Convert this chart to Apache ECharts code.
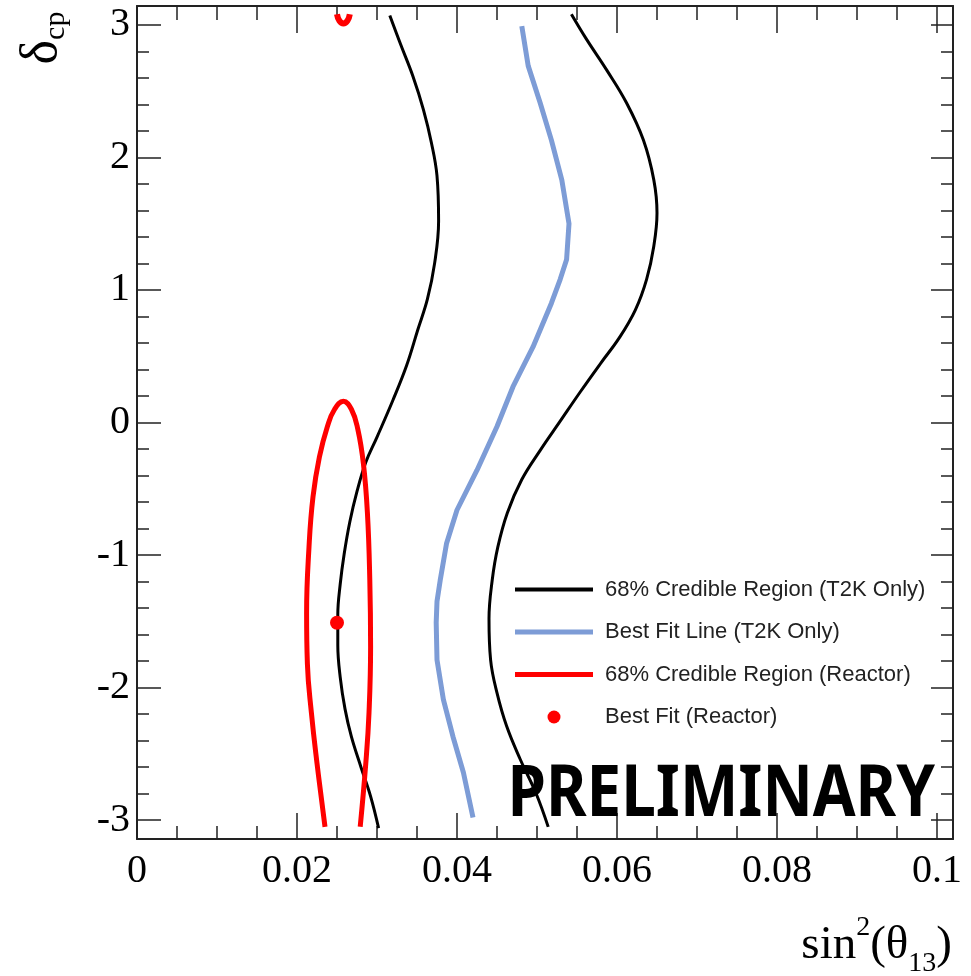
<!DOCTYPE html>
<html>
<head>
<meta charset="utf-8">
<script src="https://cdn.jsdelivr.net/npm/echarts@6/dist/echarts.min.js"></script>
<style>
  html, body { margin: 0; padding: 0; background: #fff; }
  #chart { width: 971px; height: 976px; }
</style>
</head>
<body>
<div id="chart"></div>
<script>
// sin^2(theta13) vs delta_cp contours
const t2kLeft = [
  [0.0316, 3.07], [0.0329, 2.86], [0.0345, 2.61], [0.0358, 2.36], [0.0368, 2.11],
  [0.0375, 1.86], [0.0377, 1.52], [0.0372, 1.20], [0.0363, 0.93], [0.0351, 0.70],
  [0.0337, 0.43], [0.0320, 0.17], [0.0300, -0.11], [0.0286, -0.30], [0.0275, -0.52],
  [0.0266, -0.75], [0.0259, -0.99], [0.0254, -1.22], [0.0251, -1.45], [0.0251, -1.68],
  [0.0254, -1.92], [0.0260, -2.16], [0.0268, -2.37], [0.0280, -2.60], [0.0292, -2.82],
  [0.0302, -3.06]
]
const t2kRight = [
  [0.0543, 3.08], [0.0562, 2.89], [0.0587, 2.66], [0.0612, 2.41], [0.0633, 2.13],
  [0.0646, 1.83], [0.0650, 1.58], [0.0646, 1.33], [0.0637, 1.08], [0.0623, 0.85],
  [0.0603, 0.64], [0.0580, 0.45], [0.0554, 0.23], [0.0529, 0.01],
  [0.0504, -0.21], [0.0481, -0.43], [0.0463, -0.68], [0.0451, -0.94], [0.0444, -1.19],
  [0.0440, -1.48], [0.0442, -1.79], [0.0450, -2.04], [0.0462, -2.29],
  [0.0479, -2.54], [0.0499, -2.80], [0.0514, -3.05]
]
const t2kBest = [
  [0.0481, 2.99], [0.0489, 2.69], [0.0504, 2.41], [0.0518, 2.13], [0.0531, 1.83],
  [0.0540, 1.50], [0.0537, 1.23], [0.0529, 1.08], [0.0518, 0.90],
  [0.0495, 0.57], [0.0470, 0.27], [0.0450, -0.03], [0.0425, -0.36], [0.0400, -0.66],
  [0.0387, -0.91], [0.0379, -1.19], [0.0375, -1.35], [0.0374, -1.51], [0.0375, -1.79],
  [0.0383, -2.09], [0.0395, -2.37], [0.0408, -2.64], [0.0420, -2.98]
]
const reactorMain = [
  [0.0235, -3.05], [0.0225, -2.57], [0.0218, -2.19], [0.0213, -1.82], [0.0212, -1.44],
  [0.0215, -0.94], [0.0220, -0.56], [0.0228, -0.26], [0.0238, -0.03], [0.0247, 0.10],
  [0.0258, 0.16], [0.0268, 0.10], [0.0276, -0.05], [0.0283, -0.31], [0.0288, -0.68],
  [0.0291, -1.19], [0.0292, -1.69], [0.0290, -2.19], [0.0286, -2.57], [0.0279, -3.05]
]
const reactorTop = [
  [0.0250, 3.08], [0.0253, 3.03], [0.0258, 3.01], [0.0263, 3.03], [0.0266, 3.08]
]
const reactorBest = [[0.0250, -1.51]]

const xMajor = [0, 0.02, 0.04, 0.06, 0.08, 0.1]
const xMinor = [0.005, 0.01, 0.015, 0.025, 0.03, 0.035, 0.045, 0.05, 0.055,
  0.065, 0.07, 0.075, 0.085, 0.09, 0.095]
const yMajor = [-3, -2, -1, 0, 1, 2, 3]
const yMinor = [-2.8, -2.6, -2.4, -2.2, -1.8, -1.6, -1.4, -1.2, -0.8, -0.6, -0.4, -0.2,
  0.2, 0.4, 0.6, 0.8, 1.2, 1.4, 1.6, 1.8, 2.2, 2.4, 2.6, 2.8]

const names = [
  '68% Credible Region (T2K Only)',
  'Best Fit Line (T2K Only)',
  '68% Credible Region (Reactor)',
  'Best Fit (Reactor)'
]

const XMIN = 0
const XMAX = 0.102
const YMIN = -Math.PI
const YMAX = Math.PI
const tickColor = '#222'
const serif = 'Liberation Serif'

function makeX (pos, vals, len, withLine, withLabel) {
  return {
    type: 'value',
    position: pos,
    min: XMIN,
    max: XMAX,
    axisLine: { show: withLine, onZero: false, lineStyle: { color: tickColor, width: 2 } },
    axisTick: { show: true, inside: true, length: len, customValues: vals, lineStyle: { color: tickColor, width: 1.5 } },
    axisLabel: {
      show: withLabel,
      customValues: xMajor,
      fontFamily: serif,
      fontSize: 40,
      color: '#000',
      margin: 12
    },
    splitLine: { show: false }
  }
}

function makeY (pos, vals, len, withLine, withLabel) {
  return {
    type: 'value',
    position: pos,
    min: YMIN,
    max: YMAX,
    axisLine: { show: withLine, onZero: false, lineStyle: { color: tickColor, width: 2 } },
    axisTick: { show: true, inside: true, length: len, customValues: vals, lineStyle: { color: tickColor, width: 1.5 } },
    axisLabel: {
      show: withLabel,
      customValues: yMajor,
      fontFamily: serif,
      fontSize: 40,
      color: '#000',
      margin: 7
    },
    splitLine: { show: false }
  }
}

const chart = echarts.init(document.getElementById('chart'))

const option = {
  animation: false,
  backgroundColor: '#fff',
  grid: { left: 137, right: 18, top: 6, bottom: 137 },
  xAxis: [
    makeX('bottom', xMajor, 26, true, true),
    makeX('bottom', xMinor, 13, false, false),
    makeX('top', xMajor, 27, true, false),
    makeX('top', xMinor, 14, false, false)
  ],
  yAxis: [
    makeY('left', yMajor, 24, true, true),
    makeY('left', yMinor, 12, false, false),
    makeY('right', yMajor, 22, true, false),
    makeY('right', yMinor, 12, false, false)
  ],
  legend: {
    data: [
      { name: names[0], icon: 'path://M0 0H78V4H0Z' },
      { name: names[1], icon: 'path://M0 0H78V5H0Z' },
      { name: names[2], icon: 'path://M0 0H78V5H0Z' },
      { name: names[3], icon: 'circle' }
    ],
    orient: 'vertical',
    left: 510,
    top: 573,
    itemWidth: 78,
    itemHeight: 13,
    itemGap: 19.5,
    selectedMode: false,
    textStyle: {
      fontFamily: 'Liberation Sans',
      fontSize: 22,
      lineHeight: 23,
      color: '#222',
      padding: [0, 0, 0, 7]
    }
  },
  series: [
    {
      name: names[0],
      type: 'line',
      data: t2kLeft,
      symbol: 'none',
      smooth: 0.4,
      lineStyle: { color: '#000', width: 3 },
      itemStyle: { color: '#000' }
    },
    {
      name: names[0],
      type: 'line',
      data: t2kRight,
      symbol: 'none',
      smooth: 0.4,
      lineStyle: { color: '#000', width: 3 },
      itemStyle: { color: '#000' }
    },
    {
      name: names[1],
      type: 'line',
      data: t2kBest,
      symbol: 'none',
      lineStyle: { color: '#7d9cd6', width: 5 },
      itemStyle: { color: '#7d9cd6' }
    },
    {
      name: names[2],
      type: 'line',
      data: reactorMain,
      symbol: 'none',
      smooth: 0.45,
      lineStyle: { color: '#ff0000', width: 5 },
      itemStyle: { color: '#ff0000' }
    },
    {
      name: names[2],
      type: 'line',
      data: reactorTop,
      symbol: 'none',
      smooth: 0.45,
      lineStyle: { color: '#ff0000', width: 6 },
      itemStyle: { color: '#ff0000' }
    },
    {
      name: names[3],
      type: 'scatter',
      data: reactorBest,
      symbol: 'circle',
      symbolSize: 14,
      itemStyle: { color: '#ff0000', opacity: 1 },
      z: 5
    }
  ],
  graphic: [
    {
      type: 'text',
      x: 935,
      y: 831,
      scaleX: 0.86,
      scaleY: 1,
      z: 10,
      style: {
        text: 'PRELIMINARY',
        fontFamily: 'Noto Sans',
        fontWeight: 'bold',
        fontSize: 72,
        fill: '#000',
        align: 'right',
        verticalAlign: 'bottom'
      }
    },
    {
      // axis title, x
      type: 'text',
      x: 952,
      y: 978,
      style: {
        text: '{a|sin}{p|2}{a|(θ}{b|13}{a|)}',
        align: 'right',
        verticalAlign: 'bottom',
        fill: '#000',
        rich: {
          a: { fontFamily: serif, fontSize: 47, lineHeight: 64, verticalAlign: 'middle' },
          p: { fontFamily: serif, fontSize: 28, lineHeight: 24, verticalAlign: 'top' },
          b: { fontFamily: serif, fontSize: 28, lineHeight: 28, verticalAlign: 'bottom' }
        }
      }
    },
    {
      // axis title, y
      type: 'text',
      x: 42,
      y: 38,
      rotation: Math.PI / 2,
      style: {
        text: '{a|δ}{b|cp}',
        align: 'center',
        verticalAlign: 'middle',
        fill: '#000',
        rich: {
          a: { fontFamily: serif, fontSize: 52, lineHeight: 58, verticalAlign: 'middle' },
          b: { fontFamily: serif, fontSize: 30, lineHeight: 30, verticalAlign: 'bottom' }
        }
      }
    }
  ]
}

chart.setOption(option)
</script>
</body>
</html>
